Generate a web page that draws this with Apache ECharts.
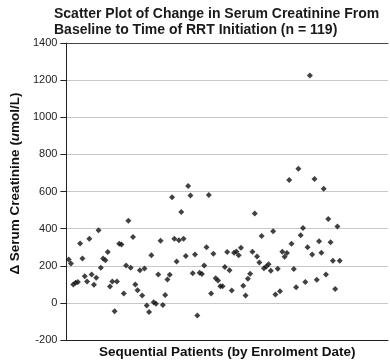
<!DOCTYPE html>
<html>
<head>
<meta charset="utf-8">
<script src="https://cdn.jsdelivr.net/npm/echarts@6/dist/echarts.min.js"></script>
<style>
html,body{margin:0;padding:0;background:#fff;}
#chart{width:390px;height:364px;}
</style>
</head>
<body>
<div id="chart"></div>
<script>
// Sequential patient number (1..119) and change in serum creatinine (umol/L)
var patients = [];
for (var p = 1; p <= 119; p++) patients.push(p);
var deltaCreatinine = [
  234, 212, 99, 108, 112, 320, 239, 144, 115, 346,
  153, 97, 135, 391, 189, 239, 229, 274, 88, 115,
  -45, 115, 318, 315, 50, 202, 443, 189, 355, 99,
  68, 176, 40, 185, -14, -49, 256, 4, -5, 153,
  335, -11, 43, 126, 151, 569, 346, 223, 338, 490,
  346, 252, 630, 578, 160, 261, -68, 162, 155, 202,
  299, 581, 50, 265, 133, 121, 90, 90, 193, 274,
  176, 67, 270, 277, 256, 297, 92, 40, 130, 157,
  275, 481, 250, 218, 360, 186, 196, 208, 173, 386,
  45, 184, 62, 275, 248, 269, 662, 319, 182, 84,
  723, 364, 403, 112, 300, 1225, 261, 668, 125, 332,
  270, 615, 153, 452, 327, 227, 75, 411, 227
];
var yTicks = [-200, 0, 200, 400, 600, 800, 1000, 1200, 1400];

var points = patients.map(function (p, i) { return [p, deltaCreatinine[i]]; });

var chart = echarts.init(document.getElementById('chart'), null, {renderer: 'canvas'});
var font = 'Liberation Sans, Arial, sans-serif';
chart.setOption({
  animation: false,
  backgroundColor: '#ffffff',
  title: {
    text: 'Scatter Plot of Change in Serum Creatinine From\nBaseline to Time of RRT Initiation (n = 119)',
    left: 49, top: 1,
    textStyle: {fontFamily: font, fontSize: 14, fontWeight: 'bold', color: '#1a1a1a', lineHeight: 16}
  },
  grid: {left: 52, right: 2, top: 43, bottom: 24, containLabel: false},
  xAxis: [{
    type: 'value', min: 0, max: 140, position: 'bottom',
    name: 'Sequential Patients (by Enrolment Date)',
    nameLocation: 'middle', nameGap: 5,
    nameTextStyle: {fontFamily: font, fontSize: 13.5, fontWeight: 'bold', color: '#111', verticalAlign: 'top'},
    axisLine: {show: true, onZero: false, lineStyle: {color: '#222', width: 1}},
    axisTick: {show: false}, axisLabel: {show: false}, splitLine: {show: false}
  }, {
    type: 'value', min: 0, max: 140, position: 'top',
    axisLine: {show: true, onZero: false, lineStyle: {color: '#444', width: 1}},
    axisTick: {show: false}, axisLabel: {show: false}, splitLine: {show: false}
  }],
  yAxis: {
    type: 'value', min: yTicks[0], max: yTicks[yTicks.length - 1], interval: 200,
    name: '{b|Δ Serum Creatinine (}{i|u}{b|mol/L)}',
    nameLocation: 'middle', nameGap: 38, nameRotate: 90,
    nameTextStyle: {
      padding: [0, 0, 0, 16],
      rich: {
        b: {fontFamily: font, fontSize: 13.5, fontWeight: 'bold', color: '#111'},
        i: {fontFamily: font, fontSize: 13.5, fontWeight: 'bold', fontStyle: 'italic', color: '#111'}
      }
    },
    axisLine: {show: true, onZero: false, lineStyle: {color: '#222', width: 1}},
    axisTick: {show: true, length: 6, inside: false, lineStyle: {color: '#222'}},
    axisLabel: {fontFamily: font, fontSize: 11, color: '#222', margin: 9,
      formatter: function (v) { return String(v); }},
    splitLine: {show: true, lineStyle: {color: '#c8c8c8', width: 1}}
  },
  series: [{
    type: 'scatter',
    data: points,
    symbol: 'diamond',
    symbolSize: 6,
    itemStyle: {color: '#111'}
  }]
});
</script>
</body>
</html>
